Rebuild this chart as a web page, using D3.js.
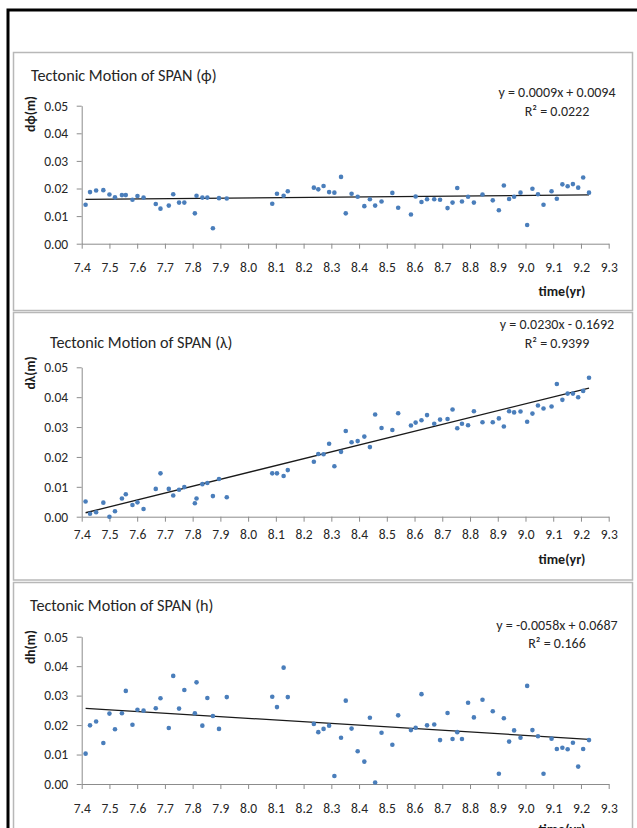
<!DOCTYPE html>
<html lang="en">
<head>
<meta charset="UTF-8">
<title>Tectonic Motion of SPAN</title>
<style>
  body { margin: 0; background: #fff; }
  svg { display: block; font-family: Carlito, Calibri, Lato, sans-serif; }
  .axis path, .axis line { stroke: #8c8c8c; }
  .axis text { fill: #262626; }
</style>
</head>
<body>
<div id="chart-container"></div>
<script src="https://cdn.jsdelivr.net/npm/d3@7/dist/d3.min.js"></script>
<script>

// epochs in decimal years, shared by the three components
var time = [7.414, 7.430, 7.452, 7.478, 7.500, 7.520, 7.545, 7.559, 7.583, 7.601,
  7.623, 7.667, 7.684, 7.714, 7.730, 7.751, 7.770, 7.808, 7.814, 7.835,
  7.853, 7.873, 7.895, 7.923, 8.087, 8.104, 8.128, 8.143, 8.237, 8.253,
  8.272, 8.292, 8.311, 8.335, 8.352, 8.373, 8.395, 8.419, 8.439, 8.458,
  8.481, 8.520, 8.541, 8.587, 8.604, 8.625, 8.645, 8.671, 8.692, 8.719,
  8.737, 8.754, 8.771, 8.793, 8.814, 8.845, 8.882, 8.904, 8.922, 8.941,
  8.959, 8.982, 9.006, 9.025, 9.045, 9.065, 9.094, 9.113, 9.133, 9.152,
  9.171, 9.190, 9.208, 9.229];

var dPhi = [0.0141, 0.0187, 0.0193, 0.0194, 0.0178, 0.0168, 0.0176, 0.0176, 0.0159, 0.0173,
  0.0167, 0.0144, 0.0127, 0.0138, 0.0179, 0.0149, 0.0149, 0.0110, 0.0174, 0.0167,
  0.0167, 0.0056, 0.0165, 0.0164, 0.0145, 0.0181, 0.0174, 0.0190, 0.0203, 0.0197,
  0.0209, 0.0187, 0.0185, 0.0242, 0.0110, 0.0181, 0.0170, 0.0136, 0.0161, 0.0138,
  0.0153, 0.0184, 0.0130, 0.0106, 0.0171, 0.0151, 0.0161, 0.0161, 0.0159, 0.0129,
  0.0149, 0.0202, 0.0153, 0.0170, 0.0149, 0.0178, 0.0157, 0.0121, 0.0211, 0.0162,
  0.0170, 0.0185, 0.0068, 0.0199, 0.0179, 0.0141, 0.0190, 0.0163, 0.0215, 0.0208,
  0.0216, 0.0203, 0.0240, 0.0185];

var dLambda = [0.0051, 0.0010, 0.0015, 0.0047, 0.0000, 0.0018, 0.0061, 0.0075, 0.0039, 0.0048,
  0.0026, 0.0093, 0.0145, 0.0093, 0.0071, 0.0090, 0.0099, 0.0045, 0.0061, 0.0109,
  0.0113, 0.0069, 0.0126, 0.0065, 0.0145, 0.0145, 0.0136, 0.0156, 0.0184, 0.0210,
  0.0209, 0.0244, 0.0169, 0.0217, 0.0287, 0.0249, 0.0253, 0.0268, 0.0233, 0.0342,
  0.0297, 0.0290, 0.0346, 0.0305, 0.0315, 0.0323, 0.0340, 0.0311, 0.0325, 0.0327,
  0.0359, 0.0296, 0.0311, 0.0306, 0.0353, 0.0316, 0.0316, 0.0329, 0.0302, 0.0353,
  0.0349, 0.0352, 0.0318, 0.0345, 0.0372, 0.0362, 0.0369, 0.0444, 0.0391, 0.0412,
  0.0412, 0.0400, 0.0421, 0.0465];

var dH = [0.0103, 0.0199, 0.0212, 0.0139, 0.0239, 0.0186, 0.0240, 0.0316, 0.0201, 0.0252,
  0.0249, 0.0257, 0.0291, 0.0190, 0.0367, 0.0256, 0.0319, 0.0240, 0.0345, 0.0198,
  0.0292, 0.0231, 0.0187, 0.0295, 0.0296, 0.0261, 0.0395, 0.0295, 0.0204, 0.0176,
  0.0187, 0.0198, 0.0027, 0.0157, 0.0283, 0.0188, 0.0111, 0.0076, 0.0225, 0.0005,
  0.0174, 0.0133, 0.0233, 0.0183, 0.0191, 0.0305, 0.0199, 0.0202, 0.0149, 0.0241,
  0.0153, 0.0176, 0.0153, 0.0276, 0.0226, 0.0286, 0.0247, 0.0035, 0.0223, 0.0144,
  0.0182, 0.0157, 0.0333, 0.0183, 0.0162, 0.0035, 0.0154, 0.0119, 0.0123, 0.0118,
  0.0140, 0.0059, 0.0119, 0.0149];

// linear trendlines as printed on the charts
var slopes = [0.0009, 0.0230, -0.0058];
var intercepts = [0.0094, -0.1692, 0.0687];
var rSquared = ["0.0222", "0.9399", "0.166"];

var xTicks = [7.4, 7.5, 7.6, 7.7, 7.8, 7.9, 8.0, 8.1, 8.2, 8.3, 8.4, 8.5, 8.6, 8.7, 8.8, 8.9, 9.0, 9.1, 9.2, 9.3];
var yTicks = [0.00, 0.01, 0.02, 0.03, 0.04, 0.05];
var titles = ["Tectonic Motion of SPAN (\u03d5)", "Tectonic Motion of SPAN (\u03bb)", "Tectonic Motion of SPAN (h)"];
var yLabels = ["d\u03d5(m)", "d\u03bb(m)", "dh(m)"];
var xLabel = "time(yr)";

var series = [dPhi, dLambda, dH];

// where each chart sits in the screenshot
var layout = [
  { boxTop: 52.5, boxBottom: 310.5, top: 105.7, bottom: 243.7, titleX: 31, titleY: 81, yLabelY: 114, xLabelY: 296, eqY: 96.5, r2Y: 115.5, tickY: 272.5 },
  { boxTop: 312.5, boxBottom: 580, top: 367.3, bottom: 516.7, titleX: 50, titleY: 347.5, yLabelY: 373, xLabelY: 564, eqY: 329, r2Y: 347.5, tickY: 539.5 },
  { boxTop: 582.5, boxBottom: 900, top: 636.7, bottom: 784, titleX: 30, titleY: 611, yLabelY: 647, xLabelY: 834, eqY: 629.5, r2Y: 647.5, tickY: 813 }
];
var left = 81.7, right = 608.7;

var width = 637, height = 828;

var svg = d3.select("#chart-container").append("svg")
  .attr("width", width)
  .attr("height", height);

// outer black frame (runs off the screenshot)
svg.append("rect")
  .attr("x", 8).attr("y", 10)
  .attr("width", 700).attr("height", 900)
  .attr("fill", "#fff")
  .attr("stroke", "#000")
  .attr("stroke-width", 3);

var x = d3.scaleLinear().domain([7.4, 9.3]).range([left, right]);
// excel prints a plain hyphen for negatives
var f4 = d3.formatLocale({ decimal: ".", thousands: ",", grouping: [3], currency: ["", ""], minus: "-" }).format(".4f");

layout.forEach(function(L, k) {
  var values = series[k];
  var y = d3.scaleLinear().domain([0, 0.05]).range([L.bottom, L.top]);

  svg.append("rect")
    .attr("x", 13.5).attr("y", L.boxTop)
    .attr("width", 619).attr("height", L.boxBottom - L.boxTop)
    .attr("fill", "#fff")
    .attr("stroke", "#b8b8b8")
    .attr("stroke-width", 1.5);

  var g = svg.append("g");

  g.append("g")
    .attr("class", "axis")
    .attr("transform", "translate(" + left + ",0)")
    .call(d3.axisLeft(y).tickValues(yTicks).tickFormat(d3.format(".2f")).tickSize(5).tickSizeOuter(0).tickPadding(8.5))
    .attr("font-family", null).attr("font-size", 13.5);

  var xAxis = g.append("g")
    .attr("class", "axis")
    .attr("transform", "translate(0," + L.bottom + ")")
    .call(d3.axisBottom(x).tickValues(xTicks).tickFormat(d3.format(".1f")).tickSize(5).tickSizeOuter(0))
    .attr("font-family", null).attr("font-size", 13.5);
  xAxis.selectAll("text").attr("y", L.tickY - L.bottom).attr("dy", null);

  // trendline over the span of the data
  var t0 = d3.min(time), t1 = d3.max(time);
  g.append("line")
    .attr("x1", x(t0)).attr("y1", y(slopes[k] * t0 + intercepts[k]))
    .attr("x2", x(t1)).attr("y2", y(slopes[k] * t1 + intercepts[k]))
    .attr("stroke", "#1a1a1a")
    .attr("stroke-width", 1.3);

  g.selectAll("circle.pt")
    .data(time)
    .enter().append("circle")
      .attr("class", "pt")
      .attr("cx", function(d) { return x(d); })
      .attr("cy", function(d, i) { return y(values[i]); })
      .attr("r", 2.3)
      .attr("fill", "#4a7ebb");

  g.append("text")
    .attr("x", L.titleX).attr("y", L.titleY)
    .attr("font-size", 16.2)
    .attr("fill", "#262626")
    .text(titles[k]);

  g.append("text")
    .attr("transform", "translate(35," + L.yLabelY + ") rotate(-90)")
    .attr("text-anchor", "middle")
    .attr("font-size", 13.5)
    .attr("font-weight", "bold")
    .attr("fill", "#1a1a1a")
    .text(yLabels[k]);

  g.append("text")
    .attr("x", 562).attr("y", L.xLabelY)
    .attr("text-anchor", "middle")
    .attr("font-size", 14)
    .attr("font-weight", "bold")
    .attr("fill", "#1a1a1a")
    .text(xLabel);

  var b = intercepts[k];
  var eq = "y = " + f4(slopes[k]) + "x " + (b < 0 ? "- " : "+ ") + f4(Math.abs(b));
  g.append("text")
    .attr("x", 557).attr("y", L.eqY)
    .attr("text-anchor", "middle")
    .attr("font-size", 14)
    .attr("fill", "#262626")
    .text(eq);

  g.append("text")
    .attr("x", 557).attr("y", L.r2Y)
    .attr("text-anchor", "middle")
    .attr("font-size", 14)
    .attr("fill", "#262626")
    .text("R\u00b2 = " + rSquared[k]);
});

</script>
</body>
</html>
